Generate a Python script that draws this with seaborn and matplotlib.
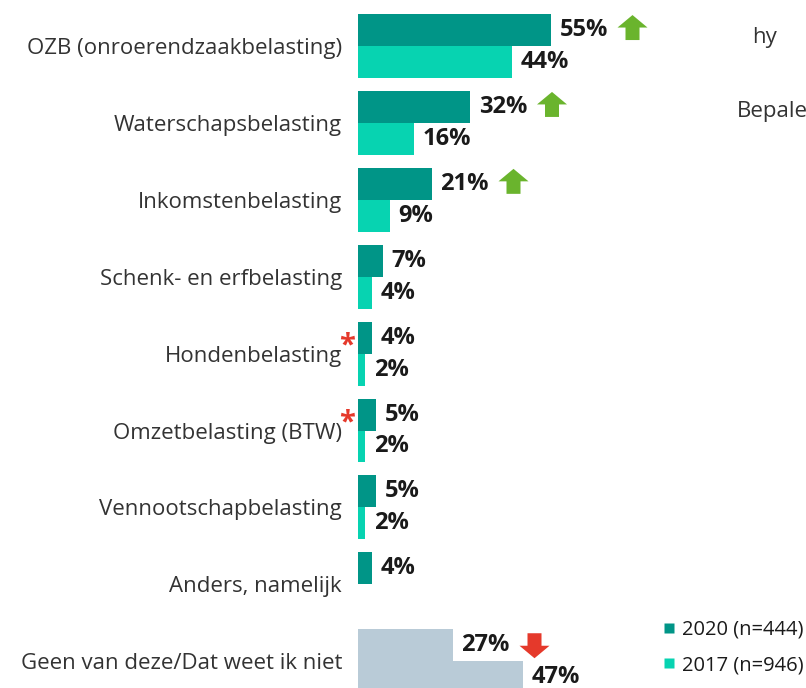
import matplotlib
matplotlib.use("Agg")
import matplotlib.pyplot as plt
import matplotlib.transforms as mtransforms
from matplotlib.patches import Polygon
from matplotlib.lines import Line2D
import numpy as np
import pandas as pd
import seaborn as sns

# Data
categories = [
    "OZB (onroerendzaakbelasting)",
    "Waterschapsbelasting",
    "Inkomstenbelasting",
    "Schenk- en erfbelasting",
    "Hondenbelasting",
    "Omzetbelasting (BTW)",
    "Vennootschapbelasting",
    "Anders, namelijk",
    "Geen van deze/Dat weet ik niet",
]
values_2020 = [55, 32, 21, 7, 4, 5, 5, 4, 27]
values_2017 = [44, 16, 9, 4, 2, 2, 2, np.nan, 47]
series_names = ["2020 (n=444)", "2017 (n=946)"]
# significant change markers: +1 up, -1 down
trend = [1, 1, 1, 0, 0, 0, 0, 0, -1]
starred = ["Hondenbelasting", "Omzetbelasting (BTW)"]

C_2020 = "#009587"
C_2017 = "#07d3b1"
C_NONE = "#b9cbd7"
C_UP = "#6ab42d"
C_DOWN = "#e5392b"
TEXT = "#333333"

df = pd.DataFrame({
    "categorie": categories * 2,
    "waarde": values_2020 + values_2017,
    "jaar": [series_names[0]] * len(categories) + [series_names[1]] * len(categories),
}).dropna()

sns.set_theme(style="white")
plt.rcParams["font.family"] = ["Open Sans", "DejaVu Sans"]

W, H, DPI = 806, 688, 100
fig = plt.figure(figsize=(W / DPI, H / DPI), dpi=DPI)
ax_left = 358
ax = fig.add_axes([ax_left / W, 0, (W - ax_left) / W, 1])

sns.barplot(
    data=df, y="categorie", x="waarde", hue="jaar", order=categories,
    hue_order=series_names, palette=[C_2020, C_2017], orient="h",
    width=0.83, saturation=1, legend=False, ax=ax, linewidth=0,
)

px_per_unit_x = 3.5
ax.set_xlim(0, (W - ax_left) / px_per_unit_x)
row_px = 76.9
first_center = 46
ax.set_ylim((H - first_center) / row_px, -first_center / row_px)

for s in ax.spines.values():
    s.set_visible(False)
ax.set_xticks([])
ax.set_xlabel("")
ax.set_ylabel("")
ax.tick_params(axis="y", length=0, pad=11.5, labelsize=16, labelcolor=TEXT)

# recolour the last group and write the value labels
for p in ax.patches:
    w = p.get_width()
    if not np.isfinite(w) or p.get_height() <= 0:
        continue
    yc = p.get_y() + p.get_height() / 2
    if int(round(yc)) == len(categories) - 1:
        p.set_facecolor(C_NONE)
    ax.annotate(f"{w:.0f}%", xy=(w, yc), xytext=(6.5, 0), textcoords="offset points",
                ha="left", va="center", fontsize=17, fontweight="bold", color="#1a1a1a")

# trend arrows next to the 2020 labels
up = np.array([(-7, -12), (7, -12), (7, 0.5), (15, 0.5), (0, 13), (-15, 0.5), (-7, 0.5)])
bar_h = 0.83 / 2
for i, t in enumerate(trend):
    if t == 0:
        continue
    yc = i - bar_h / 2
    verts = up if t > 0 else up * np.array([1, -1])
    tr = mtransforms.Affine2D().translate(82, 2 if t > 0 else 0) + \
        mtransforms.ScaledTranslation(values_2020[i], yc, ax.transData)
    ax.add_patch(Polygon(verts, closed=True, transform=tr,
                         facecolor=C_UP if t > 0 else C_DOWN, edgecolor="none", clip_on=False))

# asterisks after selected category labels
for name in starred:
    i = categories.index(name)
    ax.text(-3.2, i - 0.1, "*", ha="center", va="center", fontsize=21,
            fontweight="bold", color=C_DOWN, clip_on=False)

# legend
handles = [Line2D([], [], marker="s", linestyle="none", markersize=7.5,
                  markerfacecolor=c, markeredgecolor="none") for c in (C_2020, C_2017)]
fig.legend(handles, series_names, loc="upper left",
           bbox_to_anchor=(661 / W, 1 - 620 / H), frameon=False, fontsize=14.5,
           handlelength=0.8, handletextpad=0.25, labelspacing=0.75,
           borderaxespad=0, borderpad=0, labelcolor="#1a1a1a")

# labels of the neighbouring panel
fig.text(752 / W, 1 - 38 / H, "hy", ha="left", va="center", fontsize=16, color=TEXT)
fig.text(737 / W, 1 - 112 / H, "Bepale", ha="left", va="center", fontsize=16, color=TEXT)

fig.savefig("out.png", dpi=DPI)
